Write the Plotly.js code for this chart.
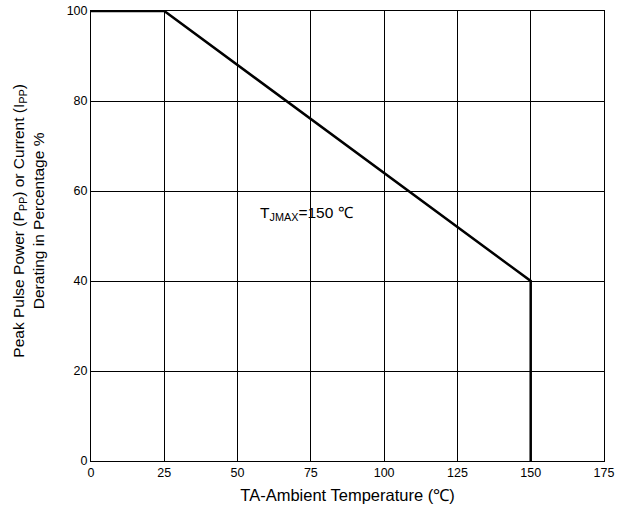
<!DOCTYPE html>
<html>
<head>
<meta charset="utf-8">
<script src="https://cdn.plot.ly/plotly-3.0.1.min.js"></script>
<style>html,body{margin:0;padding:0;background:#fff;}#chart{width:630px;height:512px;}</style>
</head>
<body>
<div id="chart"></div>
<script>
const temperature = [0, 25, 150, 150];
const derating = [100, 100, 40, 0];
const xTicks = [0, 25, 50, 75, 100, 125, 150, 175];
const yTicks = [0, 20, 40, 60, 80, 100];

const FONT = 'Arial, Liberation Sans, sans-serif';

const trace = {
  x: temperature,
  y: derating,
  mode: 'lines',
  line: {color: '#000', width: 2.5},
  hoverinfo: 'skip'
};

const axisCommon = {
  showline: true,
  mirror: true,
  linecolor: '#000',
  linewidth: 1,
  gridcolor: '#000',
  gridwidth: 1,
  zeroline: false,
  ticks: '',
  tickfont: {family: FONT, size: 12.5, color: '#000'}
};

const layout = {
  width: 630,
  height: 512,
  margin: {l: 91, r: 26, t: 11, b: 51},
  paper_bgcolor: '#fff',
  plot_bgcolor: '#fff',
  showlegend: false,
  xaxis: Object.assign({}, axisCommon, {
    range: [0, 175],
    tickvals: xTicks,
    ticktext: xTicks.map(String),
    title: {text: 'TA-Ambient Temperature (℃)', standoff: 10,
      font: {family: FONT, size: 16.5, color: '#000'}}
  }),
  yaxis: Object.assign({}, axisCommon, {
    range: [0, 100],
    tickvals: yTicks,
    ticktext: yTicks.map(String)
  }),
  annotations: [{
    x: 57, y: 55, xref: 'x', yref: 'y', xanchor: 'left', yanchor: 'middle',
    text: 'T<sub>JMAX</sub>=150 ℃', showarrow: false,
    font: {family: FONT, size: 15.5, color: '#000'}
  }, {
    x: -0.122, y: 0.535, xref: 'paper', yref: 'paper', xanchor: 'center', yanchor: 'middle',
    textangle: -90, showarrow: false, align: 'center',
    text: 'Peak Pulse Power (P<sub>PP</sub>) or Current (I<sub>PP</sub>)<br>Derating in Percentage %',
    font: {family: FONT, size: 15.5, color: '#000'}
  }]
};

Plotly.newPlot('chart', [trace], layout, {displayModeBar: false, staticPlot: true});
</script>
</body>
</html>
